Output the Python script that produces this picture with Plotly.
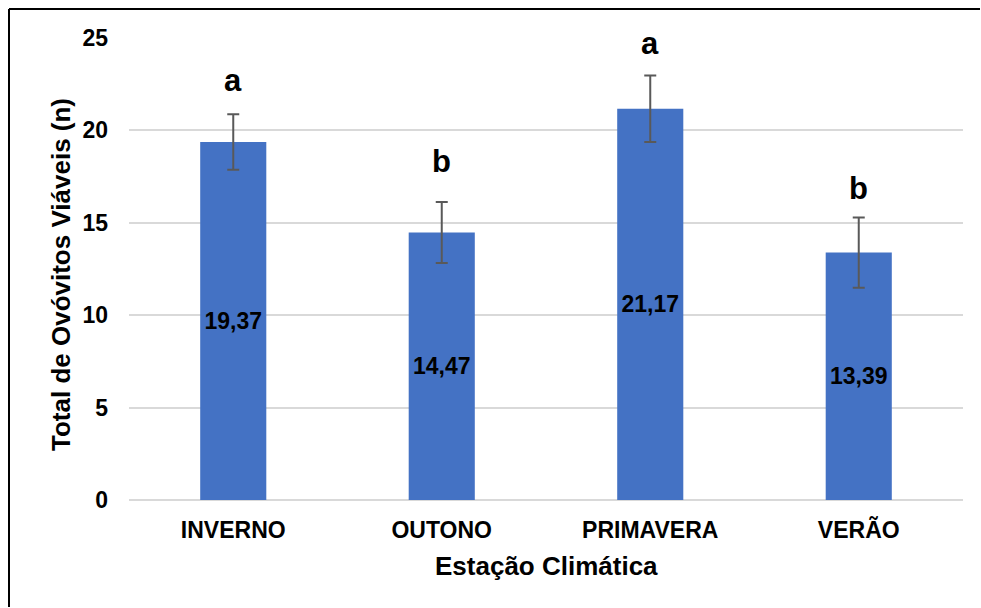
import plotly.graph_objects as go

# Season means, standard errors and significance letters
seasons = ["INVERNO", "OUTONO", "PRIMAVERA", "VERÃO"]
means = [19.37, 14.47, 21.17, 13.39]
errors = [1.50, 1.65, 1.80, 1.90]
letters = ["a", "b", "a", "b"]
letter_y = [22.09, 17.69, 24.10, 16.25]
y_ticks = [0, 5, 10, 15, 20, 25]

W, H = 981, 608
M_L, M_R, M_T, M_B = 129, 18, 38, 108
plot_w = W - M_L - M_R
plot_h = H - M_T - M_B

FONT = "Liberation Sans, Arial, sans-serif"
BAR = "#4472C4"
GRID = "#D9D9D9"

labels = [f"<b>{v:.2f}</b>".replace(".", ",") for v in means]

fig = go.Figure()
fig.add_trace(go.Bar(
    x=seasons,
    y=means,
    marker=dict(color=BAR, line=dict(width=0)),
    error_y=dict(type="data", array=errors, visible=True,
                 color="#595959", thickness=2, width=6),
    text=labels,
    textposition="inside",
    insidetextanchor="middle",
    constraintext="none",
    textfont=dict(family=FONT, size=23, color="black"),
    hoverinfo="skip",
))

annotations = []
for s, lt, ly in zip(seasons, letters, letter_y):
    annotations.append(dict(
        x=s, y=ly, xref="x", yref="y", text=f"<b>{lt}</b>",
        showarrow=False, yanchor="bottom", yshift=-8,
        font=dict(family=FONT, size=31, color="black"),
    ))

# Y-axis title placed explicitly
annotations.append(dict(
    x=(61 - M_L) / plot_w, y=(M_T + plot_h - 275) / plot_h,
    xref="paper", yref="paper", text="<b>Total de Ovóvitos Viáveis (n)</b>",
    textangle=-90, showarrow=False, xanchor="center", yanchor="middle",
    font=dict(family=FONT, size=26, color="black"),
))
# X-axis title
annotations.append(dict(
    x=0.5, y=-(566 - (M_T + plot_h)) / plot_h,
    xref="paper", yref="paper", text="<b>Estação Climática</b>",
    showarrow=False, xanchor="center", yanchor="middle",
    font=dict(family=FONT, size=26, color="black"),
))

# Outer frame: left and top edges
fx = (9 - M_L) / plot_w
fy = (M_T + plot_h - 9) / plot_h
shapes = [
    dict(type="line", xref="paper", yref="paper",
         x0=fx, x1=fx, y0=fy, y1=-(H - 1 - M_T - plot_h) / plot_h,
         line=dict(color="black", width=2), layer="above"),
    dict(type="line", xref="paper", yref="paper",
         x0=fx, x1=(W - 1 - M_L) / plot_w, y0=fy, y1=fy,
         line=dict(color="black", width=2), layer="above"),
]

fig.update_layout(
    width=W, height=H,
    margin=dict(l=M_L, r=M_R, t=M_T, b=M_B, pad=0),
    paper_bgcolor="white", plot_bgcolor="white",
    bargap=0.683,
    showlegend=False,
    annotations=annotations,
    shapes=shapes,
    font=dict(family=FONT, color="black"),
)
fig.update_xaxes(
    showgrid=False, showline=False, zeroline=False,
    tickfont=dict(family=FONT, size=23, color="black"),
    ticklabelstandoff=14,
    tickprefix="<b>", ticksuffix="</b>",
)
fig.update_yaxes(
    range=[0, 25], tickvals=y_ticks,
    ticktext=[f"<b>{t}</b>" for t in y_ticks],
    showgrid=True, gridcolor=GRID, gridwidth=2,
    zeroline=True, zerolinecolor=GRID, zerolinewidth=2,
    showline=False,
    tickfont=dict(family=FONT, size=23, color="black"),
    ticklabelstandoff=20,
)

fig.write_html("out.html")
